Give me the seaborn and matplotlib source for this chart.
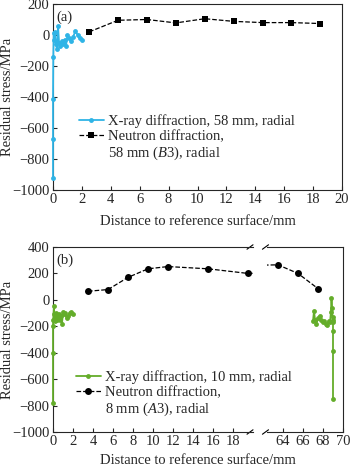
import numpy as np
import pandas as pd
import matplotlib
matplotlib.use("Agg")
import matplotlib.pyplot as plt
from matplotlib.lines import Line2D
import seaborn as sns

# ---------------- data ----------------
# panel (a)
xray_a_x = [0.0, 0.0, 0.0, 0.02, 0.05, 0.1, 0.15, 0.2, 0.28, 0.35, 0.42, 0.5, 0.6, 0.7,
            0.8, 0.9, 1.0, 1.1, 1.25, 1.4, 1.55, 1.7, 1.85, 2.0]
xray_a_y = [-925, -670, -410, -145, 15, -30, 20, -60, -90, 55, -50, -70, -40, -60,
            -30, -70, 0, -20, -40, -10, 25, 0, -20, -30]
neut_a_x = [2.5, 4.5, 6.5, 8.5, 10.5, 12.5, 14.5, 16.5, 18.5]
neut_a_y = [20, 95, 100, 78, 105, 88, 80, 80, 74]

# panel (b)
xray_b_x = [0.0, 0.0, 0.0, 0.02, 0.05, 0.1, 0.15, 0.2, 0.25, 0.3, 0.35, 0.4, 0.5, 0.6,
            0.7, 0.8, 0.9, 1.0, 1.1, 1.2, 1.35, 1.5, 1.65, 1.8, 2.0,
            67.0, 67.1, 67.2, 67.35, 67.5, 67.65, 67.8, 67.95, 68.1, 68.25, 68.4, 68.55,
            68.7, 68.8, 68.85, 68.9, 68.95, 69.0, 69.0, 69.0, 69.0, 69.0]
xray_b_y = [-780, -400, -200, -150, -110, -50, -160, -120, -140, -100, -150, -120, -130, -110,
            -150, -120, -180, -90, -110, -100, -140, -120, -100, -95, -110,
            -160, -85, -150, -180, -140, -120, -150, -170, -160, -180, -190, -160,
            -170, -90, 15, -60, -130, -150, -170, -235, -390, -750]
xray_b_seg = [0] * 25 + [1] * 22
neut_b_x = [3.5, 5.5, 7.5, 9.5, 11.5, 15.5, 19.5, 63.5, 65.5, 67.5]
neut_b_y = [65, 78, 170, 235, 252, 235, 200, 265, 200, 85]
neut_b_err = [12, 15, 18, 20, 22, 20, 18, 22, 15, 10]

xticks_a = [0, 2, 4, 6, 8, 10, 12, 14, 16, 18, 20]
yticks_a = [200, 0, -200, -400, -600, -800, -1000]
xticks_b_left = [0, 2, 4, 6, 8, 10, 12, 14, 16, 18]
xticks_b_right = [64, 66, 68, 70]
yticks_b = [400, 200, 0, -200, -400, -600, -800, -1000]

lab_xray_a = "X-ray diffraction, 58 mm, radial"
lab_neut_a = ["Neutron diffraction,", "58 mm ($B$3), radial"]
lab_xray_b = "X-ray diffraction, 10 mm, radial"
lab_neut_b = ["Neutron diffraction,", "8 mm ($A$3), radial"]
xlabel = "Distance to reference surface/mm"
ylabel = "Residual stress/MPa"

# ---------------- style ----------------
sns.set_style("ticks")
plt.rcParams["font.family"] = ["Liberation Serif", "DejaVu Serif"]
plt.rcParams["mathtext.fontset"] = "custom"
plt.rcParams["mathtext.rm"] = "Liberation Serif"
plt.rcParams["mathtext.it"] = "Liberation Serif:italic"
plt.rcParams["font.size"] = 10.5
plt.rcParams["axes.linewidth"] = 0.8
plt.rcParams["xtick.direction"] = "in"
plt.rcParams["ytick.direction"] = "in"
plt.rcParams["xtick.major.size"] = 3
plt.rcParams["ytick.major.size"] = 3
plt.rcParams["xtick.major.pad"] = 2.5
plt.rcParams["ytick.major.pad"] = 2.5

cyan = "#2fb4e6"
green = "#64ad2a"

W, H = 350, 468
fig = plt.figure(figsize=(W / 100, H / 100), dpi=100)


def rect(l, r, t, b):
    return [l / W, 1 - b / H, (r - l) / W, (b - t) / H]


def minus(vals):
    return [f"{v}".replace("-", "\u2212") for v in vals]


blank = Line2D([], [], linestyle="none")
leg_kw = dict(loc="upper left", frameon=False, handlelength=1.7, handletextpad=0.3,
              labelspacing=0.12, borderaxespad=0, borderpad=0)

# ---------------- panel (a) ----------------
ax = fig.add_axes(rect(53, 342, 4, 190))
sns.lineplot(x=xray_a_x, y=xray_a_y, ax=ax, sort=False, estimator=None, color=cyan,
             marker="o", markersize=3.5, markeredgewidth=0, linewidth=1.3, label="xa",
             clip_on=False, zorder=3)
sns.lineplot(x=neut_a_x, y=neut_a_y, ax=ax, sort=False, estimator=None, color="black",
             marker="s", markersize=5, markeredgewidth=0, linewidth=0.9, linestyle="--",
             label="na")
hs, _ = ax.get_legend_handles_labels()
ax.get_legend().remove()
ax.set_xlim(0, 20)
ax.set_ylim(-1000, 200)
ax.set_xticks(xticks_a)
ax.set_yticks(yticks_a)
ax.set_yticklabels(minus(yticks_a))
ax.tick_params(top=False, right=False)
ax.set_xlabel(xlabel, labelpad=6)
ax.set_ylabel(ylabel)
ax.yaxis.set_label_coords((14 - 53) / (342 - 53), 0.5)
ax.text(0.012, 0.965, "(a)", transform=ax.transAxes, va="top", ha="left")
fig.legend([hs[0], hs[1], blank], [lab_xray_a] + lab_neut_a,
           bbox_to_anchor=(79 / W, 1 - 114 / H), **leg_kw)

# ---------------- panel (b) ----------------
axl = fig.add_axes(rect(53, 253, 247, 432))
axr = fig.add_axes(rect(267, 343, 247, 432), sharey=axl)

dfx = pd.DataFrame({"x": xray_b_x, "y": xray_b_y, "seg": xray_b_seg})
hb = []
for s, a in enumerate((axl, axr)):
    g = dfx[dfx["seg"] == s]
    sns.lineplot(data=g, x="x", y="y", ax=a, sort=False, estimator=None, color=green,
                 marker="o", markersize=3.5, markeredgewidth=0, linewidth=1.3,
                 label="xb", zorder=3, clip_on=False)
    a.errorbar(neut_b_x, neut_b_y, yerr=neut_b_err, fmt="none", ecolor="#999999",
               elinewidth=1.2, capsize=0, zorder=2)
    sns.lineplot(x=neut_b_x, y=neut_b_y, ax=a, sort=False, estimator=None, color="black",
                 marker="o", markersize=5, markeredgewidth=0, linewidth=0.9, linestyle="--",
                 label="nb")
    h, _ = a.get_legend_handles_labels()
    hb.append(h)
    a.get_legend().remove()

axl.set_xlim(0, 20)
axr.set_xlim(62.4, 70)
axl.set_ylim(-1000, 400)
axl.set_xticks(xticks_b_left)
axr.set_xticks(xticks_b_right)
axl.set_yticks(yticks_b)
axl.set_yticklabels(minus(yticks_b))
axl.spines["right"].set_visible(False)
axr.spines["left"].set_visible(False)
axl.tick_params(top=False, right=False)
axr.tick_params(left=False, labelleft=False, top=False, right=False)
axl.set_xlabel("")
axr.set_xlabel("")
axl.set_ylabel(ylabel)
axl.yaxis.set_label_coords((14 - 53) / (253 - 53), 0.5)
axr.set_ylabel("")
axl.text(0.018, 0.965, "(b)", transform=axl.transAxes, va="top", ha="left")
fig.legend([hb[0][0], hb[0][-1], blank], [lab_xray_b] + lab_neut_b,
           bbox_to_anchor=(76 / W, 1 - 370 / H), **leg_kw)
fig.text((53 + 343) / 2 / W, 1 - 460 / H, xlabel, ha="center", va="center", fontsize=10.5)

# break marks
d = 0.012
kw = dict(color="black", linewidth=0.8, clip_on=False)
for y0 in (0, 1):
    axl.plot([1 - 0.03, 1 + 0.0], [y0 - d, y0 + d], transform=axl.transAxes, **kw)
    axr.plot([-0.06, 0.0 + 0.02], [y0 - d, y0 + d], transform=axr.transAxes, **kw)

fig.savefig("out.png", dpi=100)
